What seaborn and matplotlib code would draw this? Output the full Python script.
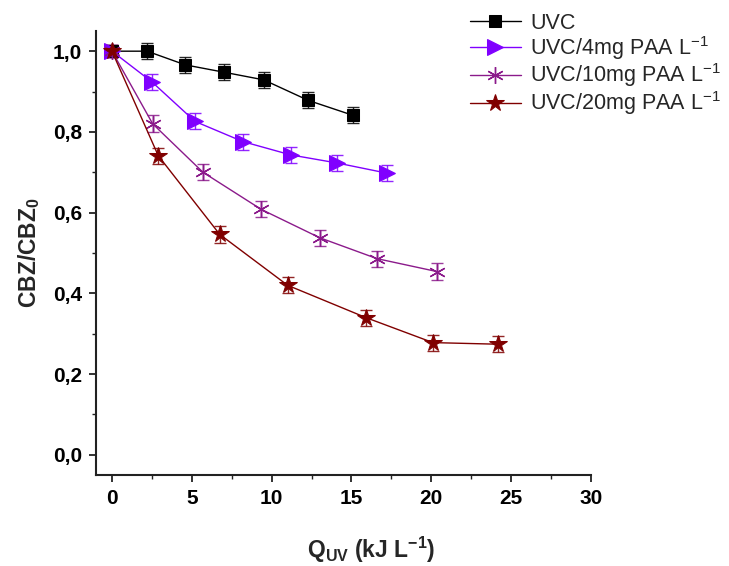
import matplotlib
matplotlib.use("Agg")
import matplotlib.pyplot as plt
import matplotlib.ticker as mticker
import numpy as np
import pandas as pd
import seaborn as sns

# UV fluence (kJ/L) and normalised CBZ concentration for each treatment
q_uvc = [0.0, 2.2, 4.6, 7.0, 9.5, 12.3, 15.1]
c_uvc = [1.0, 1.0, 0.966, 0.948, 0.929, 0.878, 0.841]
e_uvc = [0.015, 0.02, 0.02, 0.02, 0.02, 0.02, 0.02]

q_paa4 = [0.0, 2.5, 5.2, 8.2, 11.2, 14.1, 17.2]
c_paa4 = [1.0, 0.924, 0.826, 0.776, 0.743, 0.723, 0.698]
e_paa4 = [0.015, 0.02, 0.02, 0.02, 0.02, 0.02, 0.02]

q_paa10 = [0.0, 2.55, 5.7, 9.35, 13.0, 16.6, 20.35]
c_paa10 = [1.0, 0.82, 0.70, 0.608, 0.538, 0.486, 0.454]
e_paa10 = [0.015, 0.021, 0.02, 0.02, 0.02, 0.02, 0.02]

q_paa20 = [0.0, 2.9, 6.75, 11.0, 15.9, 20.1, 24.2]
c_paa20 = [1.0, 0.741, 0.546, 0.42, 0.34, 0.278, 0.274]
e_paa20 = [0.015, 0.02, 0.02, 0.02, 0.02, 0.02, 0.02]

labels = ["UVC",
          r"UVC/4mg PAA L$\mathregular{^{-1}}$",
          r"UVC/10mg PAA L$\mathregular{^{-1}}$",
          r"UVC/20mg PAA L$\mathregular{^{-1}}$"]

x_ticks = [0, 5, 10, 15, 20, 25, 30]
y_ticks = [0.0, 0.2, 0.4, 0.6, 0.8, 1.0]

sns.set_style("ticks")
plt.rcParams["font.family"] = ["Liberation Sans", "DejaVu Sans"]
plt.rcParams["mathtext.fontset"] = "custom"
plt.rcParams["mathtext.rm"] = "Liberation Sans"
plt.rcParams["mathtext.bf"] = "Liberation Sans:bold"

fig = plt.figure(figsize=(7.29, 5.66), dpi=100)
ax = fig.add_axes([96 / 729, 1 - 475 / 566, (591 - 96) / 729, (475 - 31) / 566])

series = [
    (q_uvc, c_uvc, e_uvc, "#000000", "s", 8.5, {}),
    (q_paa4, c_paa4, e_paa4, "#8000ff", ">", 11, {}),
    (q_paa10, c_paa10, e_paa10, "#8b1a8b", (6, 2, 0), 12, {"markeredgewidth": 1.0}),
    (q_paa20, c_paa20, e_paa20, "#800000", "*", 13, {}),
]

for (q, c, e, col, mk, ms, extra), lab in zip(series, labels):
    df = pd.DataFrame({"Q": q, "C": c})
    ax.errorbar(q, c, yerr=e, fmt="none", ecolor=col, elinewidth=1.0,
                capsize=4, capthick=1.0, alpha=0.85, zorder=2)
    sns.lineplot(data=df, x="Q", y="C", ax=ax, color=col, linewidth=1.0,
                 marker=mk, markersize=ms, markeredgecolor=col,
                 markerfacecolor=col, label=lab, sort=False, zorder=3, **extra)

ax.set_xlim(-1, 30)
ax.set_ylim(-0.05, 1.05)
ax.set_xticks(x_ticks)
ax.set_yticks(y_ticks)
ax.xaxis.set_minor_locator(mticker.MultipleLocator(2.5))
ax.yaxis.set_minor_locator(mticker.MultipleLocator(0.1))
ax.yaxis.set_major_formatter(mticker.FuncFormatter(lambda v, p: f"{v:.1f}".replace(".", ",")))
ax.xaxis.set_major_formatter(mticker.FuncFormatter(lambda v, p: f"{v:g}"))

for side in ["top", "right"]:
    ax.spines[side].set_visible(False)
for side in ["left", "bottom"]:
    ax.spines[side].set_linewidth(1.5)
    ax.spines[side].set_color("#222222")

ax.tick_params(which="major", direction="out", length=5, width=1.3,
               labelsize=15, pad=5, colors="#222222", labelcolor="black")
ax.tick_params(which="minor", direction="out", length=3, width=1.0, colors="#222222")
for t in ax.get_xticklabels() + ax.get_yticklabels():
    t.set_fontweight("bold")

ax.set_xlabel(r"Q$\mathregular{_{UV}}$ (kJ L$\mathregular{^{-1}}$)",
              fontsize=16.5, fontweight="bold")
ax.xaxis.set_label_coords(0.556, -0.135)
ax.set_ylabel(r"CBZ/CBZ$\mathregular{_0}$", fontsize=16.5, fontweight="bold", labelpad=8)

ax.get_legend().remove()
handles, labs = ax.get_legend_handles_labels()
fig.legend(handles, labs, loc="upper left", bbox_to_anchor=(461 / 729, 1 - 4 / 566),
           frameon=False, fontsize=15.5, handlelength=2.4, handletextpad=0.4,
           labelspacing=0.0, borderaxespad=0)

fig.savefig("out.png", dpi=100)
